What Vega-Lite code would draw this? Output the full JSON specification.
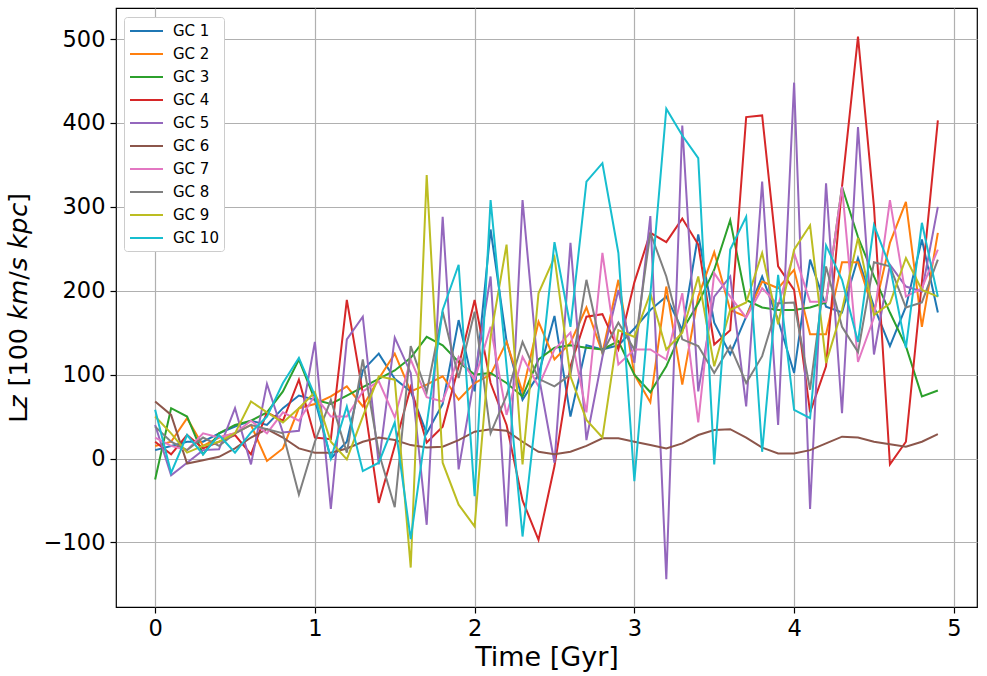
{
  "$schema": "https://vega.github.io/schema/vega-lite/v6.json",
  "width": 861,
  "height": 599,
  "autosize": {"type": "none"},
  "padding": {"left": 116, "top": 8, "right": 10, "bottom": 69},
  "background": "white",
  "config": {
    "font": "DejaVu Sans",
    "view": {"stroke": "black", "strokeWidth": 1.2},
    "axis": {
      "grid": true,
      "gridColor": "#b0b0b0",
      "gridWidth": 1.2,
      "domain": false,
      "tickColor": "black",
      "tickSize": 6,
      "tickWidth": 1.2,
      "labelFont": "DejaVu Sans",
      "labelFontSize": 22.5,
      "labelColor": "black",
      "titleFont": "DejaVu Sans",
      "titleFontSize": 27,
      "titleFontWeight": "normal",
      "titleColor": "black"
    }
  },
  "data": {
    "values": [
      {"s":"GC 1","t":0,"v":10},{"s":"GC 1","t":0.1,"v":15},{"s":"GC 1","t":0.2,"v":20},{"s":"GC 1","t":0.3,"v":20},{"s":"GC 1","t":0.4,"v":30},
      {"s":"GC 1","t":0.5,"v":38},{"s":"GC 1","t":0.6,"v":45},{"s":"GC 1","t":0.7,"v":40},{"s":"GC 1","t":0.8,"v":60},{"s":"GC 1","t":0.9,"v":75},
      {"s":"GC 1","t":1.0,"v":70},{"s":"GC 1","t":1.1,"v":0},{"s":"GC 1","t":1.2,"v":20},{"s":"GC 1","t":1.3,"v":105},{"s":"GC 1","t":1.4,"v":125},
      {"s":"GC 1","t":1.5,"v":95},{"s":"GC 1","t":1.6,"v":80},{"s":"GC 1","t":1.7,"v":30},{"s":"GC 1","t":1.8,"v":65},{"s":"GC 1","t":1.9,"v":165},
      {"s":"GC 1","t":2.0,"v":80},{"s":"GC 1","t":2.1,"v":273},{"s":"GC 1","t":2.2,"v":140},{"s":"GC 1","t":2.3,"v":70},{"s":"GC 1","t":2.4,"v":100},
      {"s":"GC 1","t":2.5,"v":170},{"s":"GC 1","t":2.6,"v":50},{"s":"GC 1","t":2.7,"v":135},{"s":"GC 1","t":2.8,"v":130},{"s":"GC 1","t":2.9,"v":135},
      {"s":"GC 1","t":3.0,"v":155},{"s":"GC 1","t":3.1,"v":177},{"s":"GC 1","t":3.2,"v":193},{"s":"GC 1","t":3.3,"v":153},{"s":"GC 1","t":3.4,"v":267},
      {"s":"GC 1","t":3.5,"v":162},{"s":"GC 1","t":3.6,"v":124},{"s":"GC 1","t":3.7,"v":169},{"s":"GC 1","t":3.8,"v":217},{"s":"GC 1","t":3.9,"v":165},
      {"s":"GC 1","t":4.0,"v":102},{"s":"GC 1","t":4.1,"v":237},{"s":"GC 1","t":4.2,"v":181},{"s":"GC 1","t":4.3,"v":174},{"s":"GC 1","t":4.4,"v":239},
      {"s":"GC 1","t":4.5,"v":181},{"s":"GC 1","t":4.6,"v":134},{"s":"GC 1","t":4.7,"v":181},{"s":"GC 1","t":4.8,"v":261},{"s":"GC 1","t":4.9,"v":174},

      {"s":"GC 2","t":0,"v":15},{"s":"GC 2","t":0.1,"v":20},{"s":"GC 2","t":0.2,"v":48},{"s":"GC 2","t":0.3,"v":15},{"s":"GC 2","t":0.4,"v":25},
      {"s":"GC 2","t":0.5,"v":30},{"s":"GC 2","t":0.6,"v":40},{"s":"GC 2","t":0.7,"v":-3},{"s":"GC 2","t":0.8,"v":12},{"s":"GC 2","t":0.9,"v":60},
      {"s":"GC 2","t":1.0,"v":65},{"s":"GC 2","t":1.1,"v":74},{"s":"GC 2","t":1.2,"v":86},{"s":"GC 2","t":1.3,"v":62},{"s":"GC 2","t":1.4,"v":95},
      {"s":"GC 2","t":1.5,"v":125},{"s":"GC 2","t":1.6,"v":80},{"s":"GC 2","t":1.7,"v":88},{"s":"GC 2","t":1.8,"v":98},{"s":"GC 2","t":1.9,"v":70},
      {"s":"GC 2","t":2.0,"v":90},{"s":"GC 2","t":2.1,"v":100},{"s":"GC 2","t":2.2,"v":139},{"s":"GC 2","t":2.3,"v":79},{"s":"GC 2","t":2.4,"v":163},
      {"s":"GC 2","t":2.5,"v":118},{"s":"GC 2","t":2.6,"v":138},{"s":"GC 2","t":2.7,"v":180},{"s":"GC 2","t":2.8,"v":126},{"s":"GC 2","t":2.9,"v":213},
      {"s":"GC 2","t":3.0,"v":100},{"s":"GC 2","t":3.1,"v":67},{"s":"GC 2","t":3.2,"v":205},{"s":"GC 2","t":3.3,"v":88},{"s":"GC 2","t":3.4,"v":193},
      {"s":"GC 2","t":3.5,"v":246},{"s":"GC 2","t":3.6,"v":177},{"s":"GC 2","t":3.7,"v":169},{"s":"GC 2","t":3.8,"v":211},{"s":"GC 2","t":3.9,"v":203},
      {"s":"GC 2","t":4.0,"v":225},{"s":"GC 2","t":4.1,"v":148},{"s":"GC 2","t":4.2,"v":148},{"s":"GC 2","t":4.3,"v":234},{"s":"GC 2","t":4.4,"v":234},
      {"s":"GC 2","t":4.5,"v":174},{"s":"GC 2","t":4.6,"v":257},{"s":"GC 2","t":4.7,"v":306},{"s":"GC 2","t":4.8,"v":157},{"s":"GC 2","t":4.9,"v":269},

      {"s":"GC 3","t":0,"v":-25},{"s":"GC 3","t":0.1,"v":60},{"s":"GC 3","t":0.2,"v":50},{"s":"GC 3","t":0.3,"v":5},{"s":"GC 3","t":0.4,"v":30},
      {"s":"GC 3","t":0.5,"v":40},{"s":"GC 3","t":0.6,"v":45},{"s":"GC 3","t":0.7,"v":55},{"s":"GC 3","t":0.8,"v":80},{"s":"GC 3","t":0.9,"v":118},
      {"s":"GC 3","t":1.0,"v":70},{"s":"GC 3","t":1.1,"v":65},{"s":"GC 3","t":1.2,"v":75},{"s":"GC 3","t":1.3,"v":85},{"s":"GC 3","t":1.4,"v":95},
      {"s":"GC 3","t":1.5,"v":105},{"s":"GC 3","t":1.6,"v":120},{"s":"GC 3","t":1.7,"v":145},{"s":"GC 3","t":1.8,"v":135},{"s":"GC 3","t":1.9,"v":115},
      {"s":"GC 3","t":2.0,"v":100},{"s":"GC 3","t":2.1,"v":102},{"s":"GC 3","t":2.2,"v":90},{"s":"GC 3","t":2.3,"v":74},{"s":"GC 3","t":2.4,"v":118},
      {"s":"GC 3","t":2.5,"v":132},{"s":"GC 3","t":2.6,"v":135},{"s":"GC 3","t":2.7,"v":132},{"s":"GC 3","t":2.8,"v":130},{"s":"GC 3","t":2.9,"v":140},
      {"s":"GC 3","t":3.0,"v":100},{"s":"GC 3","t":3.1,"v":79},{"s":"GC 3","t":3.2,"v":110},{"s":"GC 3","t":3.3,"v":153},{"s":"GC 3","t":3.4,"v":185},
      {"s":"GC 3","t":3.5,"v":225},{"s":"GC 3","t":3.6,"v":284},{"s":"GC 3","t":3.7,"v":189},{"s":"GC 3","t":3.8,"v":180},{"s":"GC 3","t":3.9,"v":177},
      {"s":"GC 3","t":4.0,"v":177},{"s":"GC 3","t":4.1,"v":180},{"s":"GC 3","t":4.2,"v":186},{"s":"GC 3","t":4.3,"v":324},{"s":"GC 3","t":4.4,"v":264},
      {"s":"GC 3","t":4.5,"v":217},{"s":"GC 3","t":4.6,"v":174},{"s":"GC 3","t":4.7,"v":134},{"s":"GC 3","t":4.8,"v":74},{"s":"GC 3","t":4.9,"v":81},

      {"s":"GC 4","t":0,"v":20},{"s":"GC 4","t":0.1,"v":5},{"s":"GC 4","t":0.2,"v":28},{"s":"GC 4","t":0.3,"v":12},{"s":"GC 4","t":0.4,"v":20},
      {"s":"GC 4","t":0.5,"v":28},{"s":"GC 4","t":0.6,"v":5},{"s":"GC 4","t":0.7,"v":55},{"s":"GC 4","t":0.8,"v":45},{"s":"GC 4","t":0.9,"v":94},
      {"s":"GC 4","t":1.0,"v":25},{"s":"GC 4","t":1.1,"v":23},{"s":"GC 4","t":1.2,"v":189},{"s":"GC 4","t":1.3,"v":78},{"s":"GC 4","t":1.4,"v":-53},
      {"s":"GC 4","t":1.5,"v":15},{"s":"GC 4","t":1.6,"v":85},{"s":"GC 4","t":1.7,"v":19},{"s":"GC 4","t":1.8,"v":38},{"s":"GC 4","t":1.9,"v":110},
      {"s":"GC 4","t":2.0,"v":189},{"s":"GC 4","t":2.1,"v":90},{"s":"GC 4","t":2.2,"v":40},{"s":"GC 4","t":2.3,"v":-50},{"s":"GC 4","t":2.4,"v":-97},
      {"s":"GC 4","t":2.5,"v":-9},{"s":"GC 4","t":2.6,"v":110},{"s":"GC 4","t":2.7,"v":169},{"s":"GC 4","t":2.8,"v":172},{"s":"GC 4","t":2.9,"v":130},
      {"s":"GC 4","t":3.0,"v":210},{"s":"GC 4","t":3.1,"v":269},{"s":"GC 4","t":3.2,"v":258},{"s":"GC 4","t":3.3,"v":286},{"s":"GC 4","t":3.4,"v":255},
      {"s":"GC 4","t":3.5,"v":136},{"s":"GC 4","t":3.6,"v":153},{"s":"GC 4","t":3.7,"v":407},{"s":"GC 4","t":3.8,"v":409},{"s":"GC 4","t":3.9,"v":229},
      {"s":"GC 4","t":4.0,"v":201},{"s":"GC 4","t":4.1,"v":55},{"s":"GC 4","t":4.2,"v":110},{"s":"GC 4","t":4.3,"v":324},{"s":"GC 4","t":4.4,"v":503},
      {"s":"GC 4","t":4.5,"v":300},{"s":"GC 4","t":4.6,"v":-7},{"s":"GC 4","t":4.7,"v":20},{"s":"GC 4","t":4.8,"v":210},{"s":"GC 4","t":4.9,"v":403},

      {"s":"GC 5","t":0,"v":40},{"s":"GC 5","t":0.1,"v":-20},{"s":"GC 5","t":0.2,"v":-5},{"s":"GC 5","t":0.3,"v":10},{"s":"GC 5","t":0.4,"v":11},
      {"s":"GC 5","t":0.5,"v":60},{"s":"GC 5","t":0.6,"v":-7},{"s":"GC 5","t":0.7,"v":89},{"s":"GC 5","t":0.8,"v":31},{"s":"GC 5","t":0.9,"v":33},
      {"s":"GC 5","t":1.0,"v":139},{"s":"GC 5","t":1.1,"v":-60},{"s":"GC 5","t":1.2,"v":142},{"s":"GC 5","t":1.3,"v":169},{"s":"GC 5","t":1.4,"v":-7},
      {"s":"GC 5","t":1.5,"v":144},{"s":"GC 5","t":1.6,"v":102},{"s":"GC 5","t":1.7,"v":-79},{"s":"GC 5","t":1.8,"v":288},{"s":"GC 5","t":1.9,"v":-13},
      {"s":"GC 5","t":2.0,"v":98},{"s":"GC 5","t":2.1,"v":217},{"s":"GC 5","t":2.2,"v":-81},{"s":"GC 5","t":2.3,"v":308},{"s":"GC 5","t":2.4,"v":100},
      {"s":"GC 5","t":2.5,"v":-5},{"s":"GC 5","t":2.6,"v":257},{"s":"GC 5","t":2.7,"v":22},{"s":"GC 5","t":2.8,"v":121},{"s":"GC 5","t":2.9,"v":201},
      {"s":"GC 5","t":3.0,"v":114},{"s":"GC 5","t":3.1,"v":289},{"s":"GC 5","t":3.2,"v":-144},{"s":"GC 5","t":3.3,"v":397},{"s":"GC 5","t":3.4,"v":80},
      {"s":"GC 5","t":3.5,"v":193},{"s":"GC 5","t":3.6,"v":217},{"s":"GC 5","t":3.7,"v":62},{"s":"GC 5","t":3.8,"v":330},{"s":"GC 5","t":3.9,"v":40},
      {"s":"GC 5","t":4.0,"v":448},{"s":"GC 5","t":4.1,"v":-60},{"s":"GC 5","t":4.2,"v":328},{"s":"GC 5","t":4.3,"v":54},{"s":"GC 5","t":4.4,"v":395},
      {"s":"GC 5","t":4.5,"v":124},{"s":"GC 5","t":4.6,"v":231},{"s":"GC 5","t":4.7,"v":205},{"s":"GC 5","t":4.8,"v":199},{"s":"GC 5","t":4.9,"v":300},

      {"s":"GC 6","t":0,"v":68},{"s":"GC 6","t":0.1,"v":52},{"s":"GC 6","t":0.2,"v":-6},{"s":"GC 6","t":0.3,"v":-2},{"s":"GC 6","t":0.4,"v":2},
      {"s":"GC 6","t":0.5,"v":12},{"s":"GC 6","t":0.6,"v":25},{"s":"GC 6","t":0.7,"v":35},{"s":"GC 6","t":0.8,"v":25},{"s":"GC 6","t":0.9,"v":12},
      {"s":"GC 6","t":1.0,"v":7},{"s":"GC 6","t":1.1,"v":7},{"s":"GC 6","t":1.2,"v":12},{"s":"GC 6","t":1.3,"v":20},{"s":"GC 6","t":1.4,"v":25},
      {"s":"GC 6","t":1.5,"v":22},{"s":"GC 6","t":1.6,"v":16},{"s":"GC 6","t":1.7,"v":13},{"s":"GC 6","t":1.8,"v":14},{"s":"GC 6","t":1.9,"v":22},
      {"s":"GC 6","t":2.0,"v":32},{"s":"GC 6","t":2.1,"v":35},{"s":"GC 6","t":2.2,"v":33},{"s":"GC 6","t":2.3,"v":20},{"s":"GC 6","t":2.4,"v":8},
      {"s":"GC 6","t":2.5,"v":5},{"s":"GC 6","t":2.6,"v":8},{"s":"GC 6","t":2.7,"v":15},{"s":"GC 6","t":2.8,"v":24},{"s":"GC 6","t":2.9,"v":24},
      {"s":"GC 6","t":3.0,"v":20},{"s":"GC 6","t":3.1,"v":16},{"s":"GC 6","t":3.2,"v":12},{"s":"GC 6","t":3.3,"v":18},{"s":"GC 6","t":3.4,"v":28},
      {"s":"GC 6","t":3.5,"v":34},{"s":"GC 6","t":3.6,"v":35},{"s":"GC 6","t":3.7,"v":25},{"s":"GC 6","t":3.8,"v":13},{"s":"GC 6","t":3.9,"v":6},
      {"s":"GC 6","t":4.0,"v":6},{"s":"GC 6","t":4.1,"v":10},{"s":"GC 6","t":4.2,"v":18},{"s":"GC 6","t":4.3,"v":26},{"s":"GC 6","t":4.4,"v":25},
      {"s":"GC 6","t":4.5,"v":20},{"s":"GC 6","t":4.6,"v":17},{"s":"GC 6","t":4.7,"v":14},{"s":"GC 6","t":4.8,"v":20},{"s":"GC 6","t":4.9,"v":29},

      {"s":"GC 7","t":0,"v":25},{"s":"GC 7","t":0.1,"v":15},{"s":"GC 7","t":0.2,"v":10},{"s":"GC 7","t":0.3,"v":30},{"s":"GC 7","t":0.4,"v":25},
      {"s":"GC 7","t":0.5,"v":30},{"s":"GC 7","t":0.6,"v":45},{"s":"GC 7","t":0.7,"v":30},{"s":"GC 7","t":0.8,"v":55},{"s":"GC 7","t":0.9,"v":45},
      {"s":"GC 7","t":1.0,"v":75},{"s":"GC 7","t":1.1,"v":50},{"s":"GC 7","t":1.2,"v":50},{"s":"GC 7","t":1.3,"v":80},{"s":"GC 7","t":1.4,"v":92},
      {"s":"GC 7","t":1.5,"v":49},{"s":"GC 7","t":1.6,"v":118},{"s":"GC 7","t":1.7,"v":73},{"s":"GC 7","t":1.8,"v":68},{"s":"GC 7","t":1.9,"v":121},
      {"s":"GC 7","t":2.0,"v":94},{"s":"GC 7","t":2.1,"v":157},{"s":"GC 7","t":2.2,"v":52},{"s":"GC 7","t":2.3,"v":121},{"s":"GC 7","t":2.4,"v":86},
      {"s":"GC 7","t":2.5,"v":130},{"s":"GC 7","t":2.6,"v":150},{"s":"GC 7","t":2.7,"v":55},{"s":"GC 7","t":2.8,"v":245},{"s":"GC 7","t":2.9,"v":112},
      {"s":"GC 7","t":3.0,"v":130},{"s":"GC 7","t":3.1,"v":130},{"s":"GC 7","t":3.2,"v":118},{"s":"GC 7","t":3.3,"v":197},{"s":"GC 7","t":3.4,"v":43},
      {"s":"GC 7","t":3.5,"v":221},{"s":"GC 7","t":3.6,"v":193},{"s":"GC 7","t":3.7,"v":168},{"s":"GC 7","t":3.8,"v":203},{"s":"GC 7","t":3.9,"v":183},
      {"s":"GC 7","t":4.0,"v":245},{"s":"GC 7","t":4.1,"v":187},{"s":"GC 7","t":4.2,"v":187},{"s":"GC 7","t":4.3,"v":324},{"s":"GC 7","t":4.4,"v":115},
      {"s":"GC 7","t":4.5,"v":168},{"s":"GC 7","t":4.6,"v":308},{"s":"GC 7","t":4.7,"v":193},{"s":"GC 7","t":4.8,"v":203},{"s":"GC 7","t":4.9,"v":249},

      {"s":"GC 8","t":0,"v":38},{"s":"GC 8","t":0.1,"v":20},{"s":"GC 8","t":0.2,"v":10},{"s":"GC 8","t":0.3,"v":25},{"s":"GC 8","t":0.4,"v":15},
      {"s":"GC 8","t":0.5,"v":30},{"s":"GC 8","t":0.6,"v":40},{"s":"GC 8","t":0.7,"v":35},{"s":"GC 8","t":0.8,"v":30},{"s":"GC 8","t":0.9,"v":-43},
      {"s":"GC 8","t":1.0,"v":20},{"s":"GC 8","t":1.1,"v":70},{"s":"GC 8","t":1.2,"v":7},{"s":"GC 8","t":1.3,"v":118},{"s":"GC 8","t":1.4,"v":7},
      {"s":"GC 8","t":1.5,"v":-58},{"s":"GC 8","t":1.6,"v":134},{"s":"GC 8","t":1.7,"v":79},{"s":"GC 8","t":1.8,"v":175},{"s":"GC 8","t":1.9,"v":96},
      {"s":"GC 8","t":2.0,"v":175},{"s":"GC 8","t":2.1,"v":30},{"s":"GC 8","t":2.2,"v":75},{"s":"GC 8","t":2.3,"v":139},{"s":"GC 8","t":2.4,"v":95},
      {"s":"GC 8","t":2.5,"v":86},{"s":"GC 8","t":2.6,"v":100},{"s":"GC 8","t":2.7,"v":213},{"s":"GC 8","t":2.8,"v":126},{"s":"GC 8","t":2.9,"v":162},
      {"s":"GC 8","t":3.0,"v":130},{"s":"GC 8","t":3.1,"v":269},{"s":"GC 8","t":3.2,"v":217},{"s":"GC 8","t":3.3,"v":142},{"s":"GC 8","t":3.4,"v":134},
      {"s":"GC 8","t":3.5,"v":102},{"s":"GC 8","t":3.6,"v":134},{"s":"GC 8","t":3.7,"v":90},{"s":"GC 8","t":3.8,"v":122},{"s":"GC 8","t":3.9,"v":185},
      {"s":"GC 8","t":4.0,"v":186},{"s":"GC 8","t":4.1,"v":82},{"s":"GC 8","t":4.2,"v":229},{"s":"GC 8","t":4.3,"v":157},{"s":"GC 8","t":4.4,"v":127},
      {"s":"GC 8","t":4.5,"v":234},{"s":"GC 8","t":4.6,"v":229},{"s":"GC 8","t":4.7,"v":180},{"s":"GC 8","t":4.8,"v":186},{"s":"GC 8","t":4.9,"v":237},

      {"s":"GC 9","t":0,"v":50},{"s":"GC 9","t":0.1,"v":30},{"s":"GC 9","t":0.2,"v":7},{"s":"GC 9","t":0.3,"v":15},{"s":"GC 9","t":0.4,"v":20},
      {"s":"GC 9","t":0.5,"v":30},{"s":"GC 9","t":0.6,"v":68},{"s":"GC 9","t":0.7,"v":55},{"s":"GC 9","t":0.8,"v":43},{"s":"GC 9","t":0.9,"v":60},
      {"s":"GC 9","t":1.0,"v":79},{"s":"GC 9","t":1.1,"v":20},{"s":"GC 9","t":1.2,"v":-1},{"s":"GC 9","t":1.3,"v":50},{"s":"GC 9","t":1.4,"v":98},
      {"s":"GC 9","t":1.5,"v":94},{"s":"GC 9","t":1.6,"v":-130},{"s":"GC 9","t":1.7,"v":338},{"s":"GC 9","t":1.8,"v":-5},{"s":"GC 9","t":1.9,"v":-55},
      {"s":"GC 9","t":2.0,"v":-81},{"s":"GC 9","t":2.1,"v":145},{"s":"GC 9","t":2.2,"v":255},{"s":"GC 9","t":2.3,"v":-7},{"s":"GC 9","t":2.4,"v":197},
      {"s":"GC 9","t":2.5,"v":240},{"s":"GC 9","t":2.6,"v":98},{"s":"GC 9","t":2.7,"v":46},{"s":"GC 9","t":2.8,"v":25},{"s":"GC 9","t":2.9,"v":153},
      {"s":"GC 9","t":3.0,"v":145},{"s":"GC 9","t":3.1,"v":197},{"s":"GC 9","t":3.2,"v":130},{"s":"GC 9","t":3.3,"v":150},{"s":"GC 9","t":3.4,"v":217},
      {"s":"GC 9","t":3.5,"v":110},{"s":"GC 9","t":3.6,"v":177},{"s":"GC 9","t":3.7,"v":186},{"s":"GC 9","t":3.8,"v":245},{"s":"GC 9","t":3.9,"v":160},
      {"s":"GC 9","t":4.0,"v":249},{"s":"GC 9","t":4.1,"v":278},{"s":"GC 9","t":4.2,"v":114},{"s":"GC 9","t":4.3,"v":177},{"s":"GC 9","t":4.4,"v":263},
      {"s":"GC 9","t":4.5,"v":171},{"s":"GC 9","t":4.6,"v":185},{"s":"GC 9","t":4.7,"v":239},{"s":"GC 9","t":4.8,"v":201},{"s":"GC 9","t":4.9,"v":193},

      {"s":"GC 10","t":0,"v":58},{"s":"GC 10","t":0.1,"v":-17},{"s":"GC 10","t":0.2,"v":28},{"s":"GC 10","t":0.3,"v":5},{"s":"GC 10","t":0.4,"v":28},
      {"s":"GC 10","t":0.5,"v":7},{"s":"GC 10","t":0.6,"v":31},{"s":"GC 10","t":0.7,"v":50},{"s":"GC 10","t":0.8,"v":90},{"s":"GC 10","t":0.9,"v":120},
      {"s":"GC 10","t":1.0,"v":75},{"s":"GC 10","t":1.1,"v":0},{"s":"GC 10","t":1.2,"v":62},{"s":"GC 10","t":1.3,"v":-15},{"s":"GC 10","t":1.4,"v":-5},
      {"s":"GC 10","t":1.5,"v":43},{"s":"GC 10","t":1.6,"v":-96},{"s":"GC 10","t":1.7,"v":40},{"s":"GC 10","t":1.8,"v":177},{"s":"GC 10","t":1.9,"v":231},
      {"s":"GC 10","t":2.0,"v":-45},{"s":"GC 10","t":2.1,"v":308},{"s":"GC 10","t":2.2,"v":110},{"s":"GC 10","t":2.3,"v":-93},{"s":"GC 10","t":2.4,"v":80},
      {"s":"GC 10","t":2.5,"v":258},{"s":"GC 10","t":2.6,"v":157},{"s":"GC 10","t":2.7,"v":330},{"s":"GC 10","t":2.8,"v":352},{"s":"GC 10","t":2.9,"v":245},
      {"s":"GC 10","t":3.0,"v":-27},{"s":"GC 10","t":3.1,"v":195},{"s":"GC 10","t":3.2,"v":417},{"s":"GC 10","t":3.3,"v":385},{"s":"GC 10","t":3.4,"v":358},
      {"s":"GC 10","t":3.5,"v":-7},{"s":"GC 10","t":3.6,"v":249},{"s":"GC 10","t":3.7,"v":288},{"s":"GC 10","t":3.8,"v":8},{"s":"GC 10","t":3.9,"v":219},
      {"s":"GC 10","t":4.0,"v":58},{"s":"GC 10","t":4.1,"v":48},{"s":"GC 10","t":4.2,"v":254},{"s":"GC 10","t":4.3,"v":213},{"s":"GC 10","t":4.4,"v":139},
      {"s":"GC 10","t":4.5,"v":278},{"s":"GC 10","t":4.6,"v":229},{"s":"GC 10","t":4.7,"v":132},{"s":"GC 10","t":4.8,"v":281},{"s":"GC 10","t":4.9,"v":193}
    ]
  },
  "mark": {"type": "line", "strokeWidth": 2, "clip": true},
  "encoding": {
    "x": {
      "field": "t",
      "type": "quantitative",
      "scale": {"domain": [-0.245, 5.145], "nice": false, "zero": false},
      "axis": {"values": [0, 1, 2, 3, 4, 5], "title": "Time [Gyr]", "labelPadding": 4, "titlePadding": 5}
    },
    "y": {
      "field": "v",
      "type": "quantitative",
      "scale": {"domain": [-177, 537], "nice": false, "zero": false},
      "axis": {"values": [-100, 0, 100, 200, 300, 400, 500], "title": "L𝘻 [100 𝘬𝘮/𝘴 𝘬𝘱𝘤]", "titleFontSize": 25.5, "labelPadding": 5, "titlePadding": 12}
    },
    "color": {
      "field": "s",
      "type": "nominal",
      "scale": {
        "domain": ["GC 1", "GC 2", "GC 3", "GC 4", "GC 5", "GC 6", "GC 7", "GC 8", "GC 9", "GC 10"],
        "range": ["#1f77b4", "#ff7f0e", "#2ca02c", "#d62728", "#9467bd", "#8c564b", "#e377c2", "#7f7f7f", "#bcbd22", "#17becf"]
      },
      "legend": {
        "title": null,
        "orient": "none",
        "legendX": 8,
        "legendY": 9,
        "symbolType": "M-1,0H3.125",
        "symbolStrokeWidth": 2,
        "symbolSize": 256,
        "labelFont": "DejaVu Sans",
        "labelFontSize": 15,
        "labelColor": "black",
        "labelOffset": 26,
        "strokeColor": "#cccccc",
        "fillColor": "white",
        "padding": 5,
        "cornerRadius": 3,
        "rowPadding": 6
      }
    }
  }
}
